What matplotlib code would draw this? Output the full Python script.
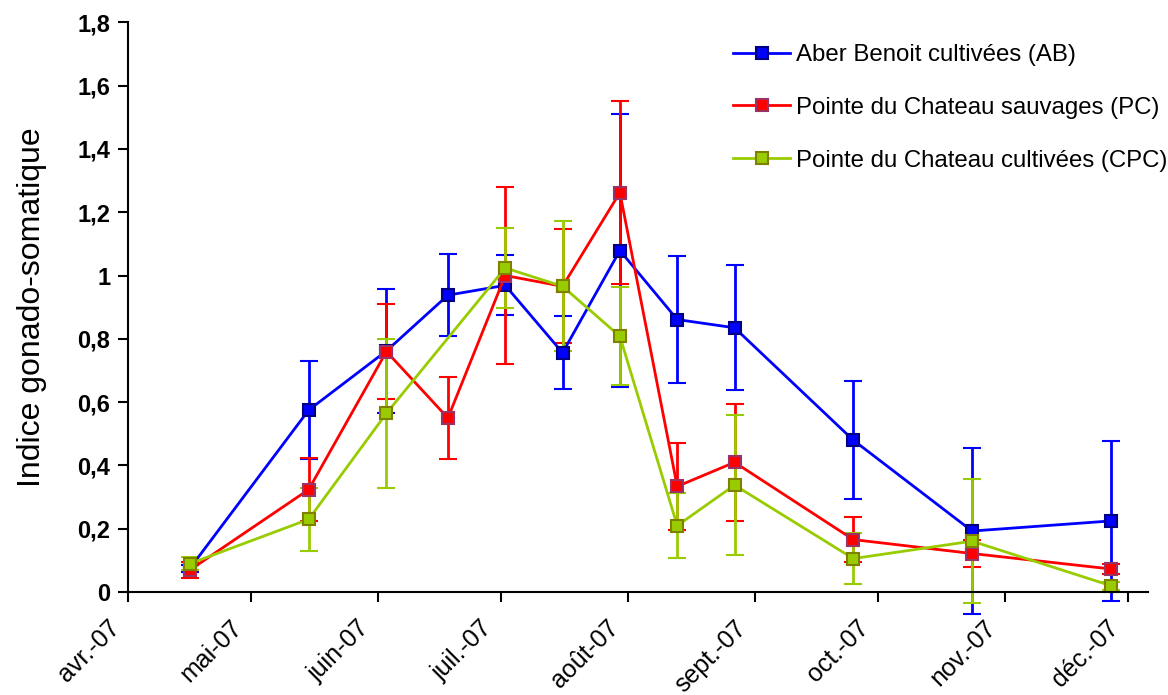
import datetime as dt

import matplotlib
matplotlib.use("Agg")
import matplotlib.pyplot as plt
import matplotlib.ticker as mticker
from matplotlib.transforms import ScaledTranslation

plt.rcParams["font.family"] = ["Liberation Sans", "DejaVu Sans"]

# ── Données ─────────────────────────────────────────────────
dates_all = ["2007-04-16", "2007-05-15", "2007-06-03", "2007-06-18",
             "2007-07-02", "2007-07-16", "2007-07-30", "2007-08-13",
             "2007-08-27", "2007-09-25", "2007-10-24", "2007-11-27"]
dates_cpc = ["2007-04-16", "2007-05-15", "2007-06-03",
             "2007-07-02", "2007-07-16", "2007-07-30", "2007-08-13",
             "2007-08-27", "2007-09-25", "2007-10-24", "2007-11-27"]

ab_val = [0.075, 0.575, 0.762, 0.938, 0.969, 0.756, 1.079, 0.861, 0.835, 0.48, 0.193, 0.225]
ab_err = [0.012, 0.155, 0.195, 0.13, 0.095, 0.115, 0.43, 0.20, 0.197, 0.186, 0.262, 0.252]

pc_val = [0.07, 0.324, 0.76, 0.55, 1.0, 0.966, 1.262, 0.334, 0.41, 0.166, 0.122, 0.073]
pc_err = [0.025, 0.10, 0.15, 0.128, 0.28, 0.18, 0.29, 0.138, 0.184, 0.072, 0.042, 0.016]

cpc_val = [0.09, 0.23, 0.565, 1.024, 0.966, 0.808, 0.21, 0.338, 0.106, 0.161, 0.02]
cpc_err = [0.02, 0.10, 0.235, 0.126, 0.205, 0.155, 0.103, 0.22, 0.08, 0.195, 0.012]

month_ticks = ["2007-04-01", "2007-05-01", "2007-06-01", "2007-07-01", "2007-08-01",
               "2007-09-01", "2007-10-01", "2007-11-01", "2007-12-01"]
month_labels = ["avr.-07", "mai-07", "juin-07", "juil.-07", "août-07",
                "sept.-07", "oct.-07", "nov.-07", "déc.-07"]

series = [
    ("Aber Benoit cultivées (AB)", dates_all, ab_val, ab_err, "#0000FF", "#0000FF", "#000080"),
    ("Pointe du Chateau sauvages (PC)", dates_all, pc_val, pc_err, "#FF0000", "#FF0000", "#993366"),
    ("Pointe du Chateau cultivées (CPC)", dates_cpc, cpc_val, cpc_err, "#99CC00", "#99CC00", "#808000"),
]


def to_dates(lst):
    return [dt.datetime.strptime(s, "%Y-%m-%d") for s in lst]


# ── Figure ──────────────────────────────────────────────────
fig = plt.figure(figsize=(11.68, 6.95), dpi=100)
ax = fig.add_axes([0.110, 0.148, 0.873, 0.820])

handles = []
for label, d, v, e, col, face, edge in series:
    x = to_dates(d)
    eb = ax.errorbar(x, v, yerr=e, color=col, lw=2, elinewidth=2,
                     capsize=6.5, capthick=2, marker="s", ms=8,
                     mfc=face, mec=edge, mew=1.5, label=label)
    for art in eb.get_children():
        art.set_clip_on(False)
    handles.append(eb)

ax.set_xlim(dt.datetime(2007, 4, 1), dt.datetime(2007, 12, 6))
ax.set_ylim(0, 1.8)
ax.set_yticks([0, 0.2, 0.4, 0.6, 0.8, 1.0, 1.2, 1.4, 1.6, 1.8])
ax.yaxis.set_major_formatter(
    mticker.FuncFormatter(lambda v, p: f"{v:g}".replace(".", ",")))

for s in ("top", "right"):
    ax.spines[s].set_visible(False)
for s in ("left", "bottom"):
    ax.spines[s].set_linewidth(1.5)
ax.tick_params(axis="both", direction="out", width=1.5, length=7, pad=6)
ax.tick_params(axis="x", pad=10)

ax.set_xticks(to_dates(month_ticks))
ax.set_xticklabels(month_labels, rotation=45, ha="right", va="top",
                   rotation_mode="anchor", fontsize=18)

# décalage des étiquettes vers la gauche (comme Excel) — après tick_params
shift = ScaledTranslation(-21 / 100, 0, fig.dpi_scale_trans)
for lab in ax.get_xticklabels():
    lab.set_transform(lab.get_transform() + shift)

for lab in ax.get_yticklabels():
    lab.set_fontweight("bold")
    lab.set_fontsize(17)

ax.set_ylabel("Indice gonado-somatique", fontsize=23, labelpad=22)

leg = ax.legend(handles=[h[0] for h in handles],
                labels=[s[0] for s in series],
                loc="upper left", bbox_to_anchor=(733 / 1168, 1 - 44 / 695),
                bbox_transform=fig.transFigure, frameon=False, fontsize=17.3,
                handlelength=2.38, handletextpad=0.25, labelspacing=1.28,
                borderpad=0, borderaxespad=0)

fig.savefig("out.png", dpi=100)
